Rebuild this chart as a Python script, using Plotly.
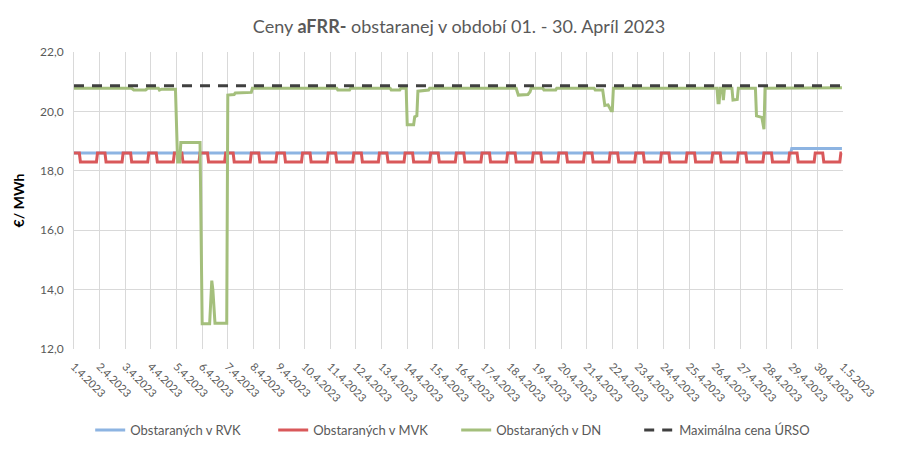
import pandas as pd
import plotly.graph_objects as go

# RVK price (step up on 29.4)
rvk_time = ["2023-04-01 00:00", "2023-04-28 23:00", "2023-04-29 00:00", "2023-04-30 23:00"]
rvk_value = [18.60, 18.60, 18.75, 18.75]

# MVK price: the same hourly profile is seen on every day of the month
mvk_day_profile = [18.6, 18.6, 18.6, 18.6, 18.6, 18.6,
                   18.3, 18.3, 18.3, 18.3, 18.3, 18.3,
                   18.3, 18.3, 18.3, 18.3, 18.3, 18.3,
                   18.3, 18.3, 18.3, 18.3, 18.6, 18.6]
mvk_days = 30

# DN price (vertices of the line)
dn_time = [
    "2023-04-01 00:00", "2023-04-03 06:00", "2023-04-03 08:00", "2023-04-03 19:00",
    "2023-04-03 21:00", "2023-04-04 07:00", "2023-04-04 08:00", "2023-04-04 10:00",
    "2023-04-04 23:00", "2023-04-05 01:00", "2023-04-05 03:00", "2023-04-05 04:00",
    "2023-04-05 22:00", "2023-04-06 00:00", "2023-04-06 07:00", "2023-04-06 09:00",
    "2023-04-06 10:00", "2023-04-06 12:00", "2023-04-06 23:00", "2023-04-07 00:00",
    "2023-04-07 06:00", "2023-04-07 07:00", "2023-04-07 22:00", "2023-04-07 23:00",
    "2023-04-11 06:00", "2023-04-11 07:00", "2023-04-11 18:00", "2023-04-11 19:00",
    "2023-04-13 08:00", "2023-04-13 09:00", "2023-04-13 17:00", "2023-04-13 18:00",
    "2023-04-13 23:00", "2023-04-14 00:00", "2023-04-14 06:00", "2023-04-14 07:00",
    "2023-04-14 09:00", "2023-04-14 10:00", "2023-04-14 20:00", "2023-04-14 21:00",
    "2023-04-18 06:00", "2023-04-18 08:00", "2023-04-18 17:00", "2023-04-18 19:00",
    "2023-04-18 20:00", "2023-04-19 07:00", "2023-04-19 08:00", "2023-04-19 19:00",
    "2023-04-19 20:00", "2023-04-21 07:00", "2023-04-21 08:00", "2023-04-21 15:00",
    "2023-04-21 17:00", "2023-04-21 20:00", "2023-04-21 23:00", "2023-04-22 00:00",
    "2023-04-22 01:00", "2023-04-26 02:00", "2023-04-26 03:00", "2023-04-26 04:00",
    "2023-04-26 05:00", "2023-04-26 07:00", "2023-04-26 08:00", "2023-04-26 09:00",
    "2023-04-26 16:00", "2023-04-26 17:00", "2023-04-26 21:00", "2023-04-26 22:00",
    "2023-04-27 14:00", "2023-04-27 15:00", "2023-04-27 20:00", "2023-04-27 22:00",
    "2023-04-27 23:00", "2023-04-30 23:00",
]
dn_value = [
    20.78, 20.78, 20.72, 20.72,
    20.78, 20.78, 20.72, 20.75,
    20.75, 18.30, 18.30, 18.95,
    18.95, 12.85, 12.85, 14.30,
    14.00, 12.87, 12.87, 20.55,
    20.57, 20.62, 20.64, 20.78,
    20.78, 20.72, 20.72, 20.78,
    20.78, 20.72, 20.72, 20.78,
    20.78, 19.55, 19.55, 19.82,
    19.85, 20.68, 20.72, 20.78,
    20.78, 20.55, 20.57, 20.66,
    20.78, 20.78, 20.72, 20.72,
    20.78, 20.78, 20.72, 20.72,
    20.20, 20.22, 20.02, 20.02,
    20.78, 20.78, 20.29, 20.29,
    20.78, 20.78, 20.38, 20.78,
    20.78, 20.38, 20.40, 20.78,
    20.78, 19.85, 19.80, 19.40,
    20.78, 20.80,
]

# max price set by URSO
max_time = ["2023-04-01 00:00", "2023-04-30 23:00"]
max_value = [20.86, 20.86]

# x tick labels, one per day
day_ticks = pd.date_range("2023-04-01", "2023-05-01", freq="D")
day_labels = [f"{d.day}.{d.month}.{d.year}" for d in day_ticks]

mvk_time = pd.date_range("2023-04-01 00:00", periods=24 * mvk_days, freq="h")
mvk_value = mvk_day_profile * mvk_days

FONT = "Lato"
GREY = "#595959"

fig = go.Figure()
fig.add_trace(go.Scatter(x=pd.to_datetime(rvk_time), y=rvk_value, mode="lines",
                         name="Obstaraných v RVK", line=dict(color="#8DB4E2", width=3)))
fig.add_trace(go.Scatter(x=mvk_time, y=mvk_value, mode="lines",
                         name="Obstaraných v MVK", line=dict(color="#D9585A", width=3)))
fig.add_trace(go.Scatter(x=pd.to_datetime(dn_time), y=dn_value, mode="lines",
                         name="Obstaraných v DN", line=dict(color="#A4BF7C", width=3)))
fig.add_trace(go.Scatter(x=pd.to_datetime(max_time), y=max_value, mode="lines",
                         name="Maximálna cena ÚRSO",
                         line=dict(color="#404040", width=3, dash="10px,8px")))

# the page body adds an 8px offset, margins allow for it
fig.update_layout(
    width=902, height=451,
    margin=dict(l=66, r=67, t=44, b=110, autoexpand=False),
    paper_bgcolor="white", plot_bgcolor="white",
    font=dict(family=FONT, color=GREY, size=12),
    separators=",.",
    title=dict(text="Ceny <b>aFRR-</b> obstaranej v období 01. - 30. Apríl 2023",
               x=0.5, xanchor="center", y=0.958, yanchor="middle",
               font=dict(family=FONT, size=18, color=GREY)),
    legend=dict(orientation="h", x=0.497, xanchor="center", y=-0.273, yanchor="middle",
                font=dict(family=FONT, size=13, color=GREY), entrywidth=138),
    showlegend=True,
)
fig.update_xaxes(
    type="date", range=["2023-04-01", "2023-05-01"], automargin=False,
    tickvals=day_ticks, ticktext=day_labels, tickangle=45, ticklabelstandoff=8,
    showgrid=True, gridcolor="#D9D9D9", gridwidth=1,
    showline=False, ticks="", tickfont=dict(size=11, color=GREY),
)
fig.update_yaxes(
    range=[12, 22], dtick=2, tick0=12, tickformat=".1f", automargin=False,
    ticklabelstandoff=7,
    showgrid=True, gridcolor="#D9D9D9", gridwidth=1,
    showline=True, linecolor="#D9D9D9", ticks="", zeroline=False,
    tickfont=dict(size=12, color=GREY),
    title=dict(text="<b>€/ MWh</b>", font=dict(size=14, color="black"), standoff=12),
)

fig.write_html("out.html")
